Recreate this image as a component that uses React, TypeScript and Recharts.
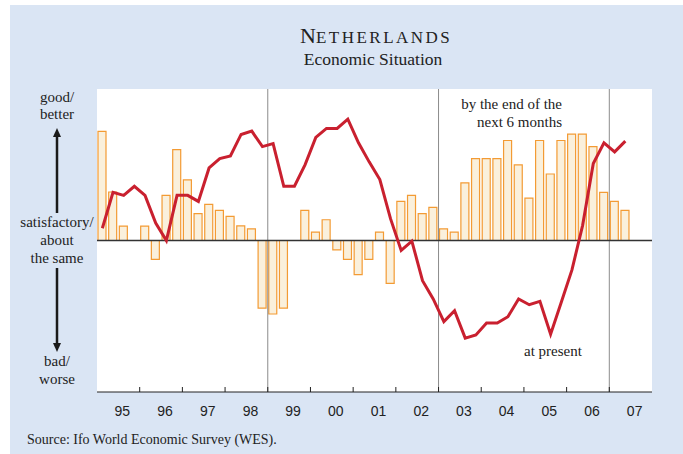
import React from 'react';
import {
    ComposedChart,
    Bar,
    Line,
    XAxis,
    YAxis,
    CartesianGrid,
    ReferenceLine,
} from 'recharts';

// quarterly, 1995 Q1 .. 2007 Q2
const years = ['95', '96', '97', '98', '99', '00', '01', '02', '03', '04', '05', '06', '07'];

// "by the end of the next 6 months" (bars)
const futureSituation = [
    72, 32, 9.5, null,
    9.5, -12.4, 29.8, 60,
    40, 17.7, 23.8, 19.9,
    15.9, 9.7, 7.7, -44.6,
    -48.5, -44.6, null, 19.9,
    5.5, 13.7, -6.2, -12.4,
    -22.5, -12.4, 5.5, -28.3,
    25.8, 29.8, 17.7, 21.9,
    7.7, 5.5, 38, 54.1,
    54.1, 54.1, 66, 49.9,
    28, 66, 43.9, 66,
    70.2, 70.2, 62, 31.8,
    25.8, 19.9,
];

// "at present" (line)
const presentSituation = [
    8.1, 31.8, 29.8, 35.8,
    29.8, 11.5, 0, 29.8,
    29.8, 25.8, 47.9, 54.1,
    55.8, 70, 72.2, 62,
    64, 35.8, 35.8, 50.1,
    68, 74, 74, 80.1,
    64.5, 51.9, 40.2, 14.4,
    -6.6, -0.4, -26.5, -38.6,
    -53.5, -46.4, -64.4, -62.3,
    -54.5, -54.5, -50.3, -38.6,
    -42.4, -40.2, -61.8, -40.8,
    -19.4, 10, 50.8, 64.5,
    58.5, 65.6,
];

const separators = [16, 32, 48];
const yearTicks = years.map((_, i) => i * 4);

const data = futureSituation.map((v, i) => ({
    q: i + 0.5,
    future: v,
    present: presentSituation[i],
}));

const serif = "'Liberation Serif', 'Times New Roman', serif";
const sans = "'Liberation Sans', Arial, sans-serif";
const halfYear = 555 / 13 / 2;

const YearTick = (props: any) => {
    const { x, y, payload } = props;
    const i = Math.round(payload.value / 4);
    return (
        <g>
            {i > 0 && <line x1={x} x2={x} y1={y} y2={y - 5} stroke="#222" />}
            <text
                x={x + halfYear + 4}
                y={y + 24}
                textAnchor="middle"
                fontFamily={sans}
                fontSize={14}
                fill="#222"
            >
                {years[i]}
            </text>
        </g>
    );
};

const Arrow = ({ x, from, to }: { x: number; from: number; to: number }) => {
    const dir = to < from ? -1 : 1;
    return (
        <g>
            <line x1={x} x2={x} y1={from} y2={to - dir * 8} stroke="#1a1a1a" strokeWidth={2.5} />
            <polygon
                points={`${x - 4},${to - dir * 9} ${x + 4},${to - dir * 9} ${x},${to}`}
                fill="#1a1a1a"
            />
        </g>
    );
};

export default function App() {
    return (
        <div
            style={{
                position: 'absolute',
                left: 0,
                top: 0,
                width: 683,
                height: 454,
                background: '#fff',
                overflow: 'hidden',
            }}
        >
            <div
                style={{
                    position: 'absolute',
                    left: 10,
                    top: 5,
                    width: 673,
                    height: 449,
                    background: '#dae5f4',
                }}
            />
            <div style={{ position: 'absolute', left: 0, top: 0 }}>
                <ComposedChart
                    width={683}
                    height={454}
                    data={data}
                    margin={{ top: 89, right: 31, bottom: 22, left: 97 }}
                >
                    <CartesianGrid fill="#fff" horizontal={false} vertical={false} />
                    <XAxis
                        dataKey="q"
                        type="number"
                        domain={[0, 52]}
                        ticks={yearTicks}
                        interval={0}
                        tick={(p: any) => <YearTick {...p} />}
                        tickLine={false}
                        tickSize={0}
                        tickMargin={0}
                        height={40}
                        axisLine={{ stroke: '#222' }}
                    />
                    <XAxis
                        xAxisId="top"
                        orientation="top"
                        type="number"
                        domain={[0, 52]}
                        height={0}
                        tick={false}
                        tickLine={false}
                        axisLine={{ stroke: '#777', strokeWidth: 2 }}
                    />
                    <YAxis
                        domain={[-100, 100]}
                        width={0}
                        tick={false}
                        tickLine={false}
                        axisLine={{ stroke: '#222' }}
                    />
                    <YAxis
                        yAxisId="r"
                        orientation="right"
                        domain={[-100, 100]}
                        width={0}
                        tick={false}
                        tickLine={false}
                        axisLine={{ stroke: '#333', strokeWidth: 1.5 }}
                    />
                    {separators.map((s) => (
                        <ReferenceLine key={s} x={s} stroke="#8c8c8c" strokeWidth={1} />
                    ))}
                    <Bar
                        dataKey="future"
                        barSize={8}
                        fill="#faf0dc"
                        stroke="#f39b34"
                        strokeWidth={1.2}
                        isAnimationActive={false}
                    />
                    <ReferenceLine y={0} stroke="#333" strokeWidth={1.3} />
                    <Line
                        dataKey="present"
                        type="linear"
                        stroke="#c9202f"
                        strokeWidth={3}
                        dot={false}
                        isAnimationActive={false}
                    />
                </ComposedChart>
            </div>
            <svg
                width={683}
                height={454}
                style={{ position: 'absolute', left: 0, top: 0, pointerEvents: 'none' }}
            >
                <text x={300} y={43} fontFamily={serif} fill="#222">
                    <tspan fontSize={22}>N</tspan>
                    <tspan fontSize={17} letterSpacing={2.5}>ETHERLANDS</tspan>
                </text>
                <text x={373} y={65} textAnchor="middle" fontFamily={serif} fontSize={17.5} fill="#222">
                    Economic Situation
                </text>

                <g fontFamily={serif} fontSize={15} fill="#222" textAnchor="middle">
                    <text x={57} y={102}>good/</text>
                    <text x={57} y={119}>better</text>
                    <text x={57} y={227}>satisfactory/</text>
                    <text x={57} y={245}>about</text>
                    <text x={57} y={263}>the same</text>
                    <text x={57} y={366}>bad/</text>
                    <text x={57} y={384}>worse</text>
                </g>
                <Arrow x={57} from={213} to={128} />
                <Arrow x={57} from={268} to={352} />

                <g fontFamily={serif} fontSize={15} fill="#222">
                    <text x={562} y={109} textAnchor="end">by the end of the</text>
                    <text x={562} y={127} textAnchor="end">next 6 months</text>
                    <text x={553} y={356} textAnchor="middle">at present</text>
                </g>

                <text x={27} y={444} fontFamily={serif} fontSize={14} fill="#222">
                    Source: Ifo World Economic Survey (WES).
                </text>
            </svg>
        </div>
    );
}
